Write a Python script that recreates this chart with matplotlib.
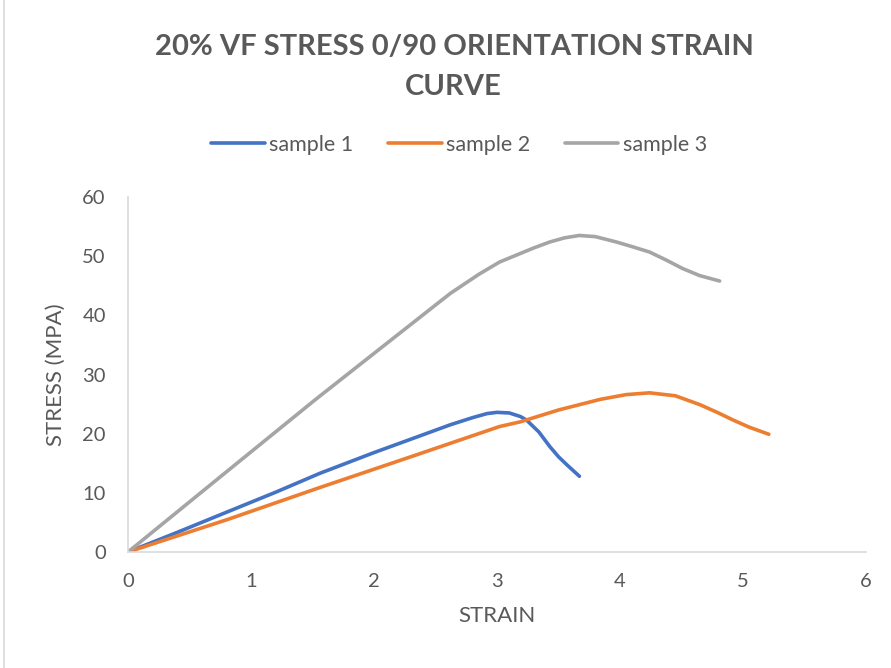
import matplotlib
matplotlib.use("Agg")
import matplotlib.pyplot as plt
from matplotlib.patches import Rectangle

# values
strain_1 = [0, 0.41, 0.81, 1.2, 1.56, 2.0, 2.37, 2.62, 2.8, 2.92, 3.0, 3.1, 3.19, 3.24, 3.34, 3.43, 3.5, 3.57, 3.67]
stress_1 = [0, 3.4, 6.8, 10.1, 13.3, 16.8, 19.6, 21.5, 22.7, 23.4, 23.6, 23.5, 22.9, 22.3, 20.3, 17.8, 16.1, 14.7, 12.8]

strain_2 = [0, 0.81, 1.56, 2.3, 3.02, 3.19, 3.5, 3.84, 4.05, 4.24, 4.45, 4.65, 4.79, 4.92, 5.05, 5.21]
stress_2 = [0, 5.5, 10.9, 16.1, 21.2, 22.0, 24.0, 25.8, 26.6, 26.9, 26.4, 24.9, 23.6, 22.3, 21.1, 19.9]

strain_3 = [0, 0.75, 1.52, 2.1, 2.62, 2.85, 3.02, 3.16, 3.3, 3.43, 3.55, 3.67, 3.8, 3.97, 4.1, 4.24, 4.38, 4.51, 4.65, 4.81]
stress_3 = [0, 12.7, 25.7, 35.2, 43.7, 46.9, 49.0, 50.2, 51.4, 52.4, 53.1, 53.5, 53.3, 52.4, 51.6, 50.7, 49.3, 47.9, 46.7, 45.8]

labels = ["sample 1", "sample 2", "sample 3"]
colors = ["#4472C4", "#ED7D31", "#A5A5A5"]

txt = "#595959"
plt.rcParams['font.family'] = ['Lato', 'DejaVu Sans']

fig = plt.figure(figsize=(8.91, 6.68), dpi=100)
ax = fig.add_axes([128 / 891, 1 - 552 / 668, 738 / 891, 355 / 668])

series = [(strain_1, stress_1), (strain_2, stress_2), (strain_3, stress_3)]
for (x, y), lab, c in zip(series, labels, colors):
    ax.plot(x, y, color=c, lw=2.6, label=lab, solid_capstyle='round', solid_joinstyle='round')

ax.set_xlim(0, 6)
ax.set_ylim(0, 60)
ax.set_xticks(range(0, 7))
ax.set_yticks(range(0, 61, 10))
ax.tick_params(length=0, labelsize=14.5, colors=txt)
ax.tick_params(axis='y', pad=16)
ax.tick_params(axis='x', pad=15)
for s in ["top", "right"]:
    ax.spines[s].set_visible(False)
for s in ["left", "bottom"]:
    ax.spines[s].set_color("#D9D9D9")
    ax.spines[s].set_linewidth(1.2)

ax.set_xlabel("STRAIN", fontsize=16, color=txt, labelpad=12)
ax.set_ylabel("STRESS (MPA)", fontsize=16, color=txt, labelpad=12)

fig.text(454 / 891, 1 - 47 / 668, "20% VF STRESS 0/90 ORIENTATION STRAIN",
         ha='center', va='center', fontsize=21, fontweight='bold', color=txt)
fig.text(453 / 891, 1 - 87 / 668, "CURVE",
         ha='center', va='center', fontsize=21, fontweight='bold', color=txt)

fig.legend(loc='center', bbox_to_anchor=(459 / 891, 1 - 145 / 668), ncol=3, frameon=False,
           fontsize=15.5, labelcolor=txt, handlelength=2.5, handletextpad=0.2, columnspacing=1.6)

fig.patches.append(Rectangle((4 / 891, -0.01), 1.2, 1.2, transform=fig.transFigure,
                             fill=False, edgecolor="#D9D9D9", lw=1.2))

fig.savefig("out.png", dpi=100)
